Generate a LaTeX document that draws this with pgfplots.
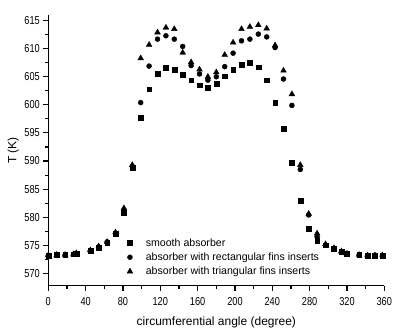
\documentclass[border=0pt]{standalone}
\usepackage{fontspec}
\setmainfont{Liberation Sans}
\newfontfamily\tickfont{Liberation Sans}[FakeStretch=0.8]
\usepackage{pgfplots}
\pgfplotsset{compat=1.18}

\pgfplotstableread{
ang smooth rect tri
0   573.2 573.2 573.2
9   573.3 573.3 573.3
18  573.3 573.3 573.3
27  573.4 573.4 573.4
30  573.5 573.5 573.6
45  574.0 574.0 574.1
54  574.6 574.7 574.8
63  575.5 575.6 575.6
72  577.0 577.1 577.3
81  580.8 581.2 581.6
90  588.8 589.0 589.3
99  597.7 600.4 608.3
108 602.8 606.9 610.7
117 605.6 611.7 612.9
126 606.6 612.3 613.75
135 606.3 611.7 613.5
144 605.3 610.4 609.3
153 604.4 607.0 607.6
162 603.5 605.5 606.3
171 603.0 604.4 605.0
180 603.7 605.0 605.8
189 605.1 606.8 608.9
198 606.2 609.2 611.1
207 607.2 611.4 613.5
216 607.5 611.7 613.9
225 606.7 612.6 614.2
234 604.4 612.1 613.6
243 600.4 610.2 610.6
252 595.8 604.6 606.1
261 589.7 599.9 601.9
270 583.0 588.5 589.3
279 578.0 580.4 580.6
288 575.8 576.5 577.1
297 575.0 575.0 575.2
306 574.4 574.4 574.5
314 573.9 573.8 573.9
320 573.5 573.5 573.5
333 573.3 573.3 573.3
342 573.2 573.2 573.2
350 573.2 573.2 573.2
358 573.2 573.2 573.2
}\datatable

\begin{document}
\begin{tikzpicture}
\useasboundingbox (-48.3pt,-48.3pt) rectangle (346.7pt,285.7pt);
\begin{axis}[
  scale only axis,
  width=336pt, height=270.7pt,
  xmin=0, xmax=360,
  ymin=567.8, ymax=616,
  axis x line=bottom, axis y line=left,
  axis line style={-, line width=1.2pt},
  xtick={0,40,...,360},
  ytick={570,575,...,615},
  minor x tick num=1,
  minor y tick num=1,
  tick align=outside,
  major tick length=5pt,
  minor tick length=3pt,
  every tick/.style={black, line width=1.1pt},
  /pgf/number format/assume math mode=true,
  /pgf/number format/1000 sep={},
  ticklabel style={font=\tickfont\fontsize{11.5}{13}\selectfont},
  xticklabel style={yshift=-3pt},
  xlabel={circumferential angle (degree)},
  ylabel={T (K)},
  every axis x label/.style={at={(axis description cs:0.5,0)}, yshift=-37pt, anchor=center,
    font=\fontsize{12}{14}\selectfont},
  every axis y label/.style={at={(axis description cs:0,0.5)}, xshift=-35pt, rotate=90, anchor=center,
    font=\fontsize{12}{14}\selectfont},
  legend image code/.code={\draw[#1] plot coordinates {(0.06cm,0cm)}; \path (0cm,0cm) (0.54cm,0cm);},
  legend style={at={(0.225,0.19)}, anchor=north west, draw=none, fill=none,
    font=\fontsize{10.6}{12.5}\selectfont, row sep=1pt},
  legend cell align=left,
]
\addplot[only marks, mark=square*, mark size=2.4pt, black] table[x=ang, y=smooth] {\datatable};
\addlegendentry{smooth absorber}
\addplot[only marks, mark=*, mark size=2.5pt, black] table[x=ang, y=rect] {\datatable};
\addlegendentry{absorber with rectangular fins inserts}
\addplot[only marks, mark=triangle*, mark size=3.3pt, black] table[x=ang, y=tri] {\datatable};
\addlegendentry{absorber with triangular fins inserts}
\end{axis}
\end{tikzpicture}
\end{document}
